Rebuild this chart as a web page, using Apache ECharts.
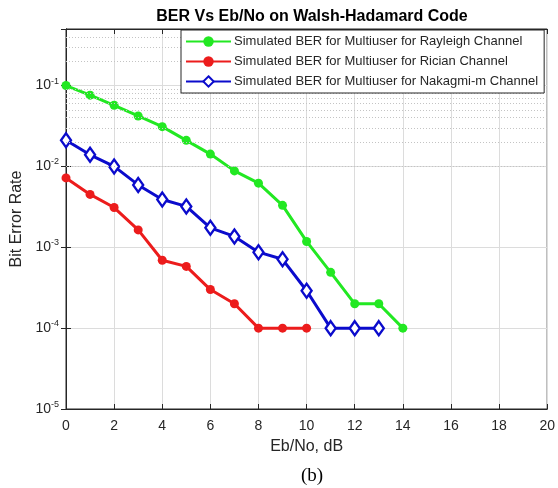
<!DOCTYPE html>
<html>
<head>
<meta charset="utf-8">
<script src="https://cdn.jsdelivr.net/npm/echarts@6/dist/echarts.min.js"></script>
<style>
html,body{margin:0;padding:0;background:#fff;}
#chart{width:558px;height:488px;}
</style>
</head>
<body>
<div id="chart"></div>
<script>
// ---- data ----
const ebno = [0, 1, 2, 3, 4, 5, 6, 7, 8, 9, 10, 11, 12, 13, 14];
const berRayleigh = [0.1, 0.076, 0.057, 0.042, 0.031, 0.021, 0.0142, 0.0088, 0.0062, 0.0033, 0.00118, 0.00049, 0.0002, 0.0002, 0.0001];
const berRician = [0.0072, 0.0045, 0.0031, 0.00164, 0.00069, 0.00058, 0.0003, 0.0002, 0.0001, 0.0001, 0.0001];
const berNakagami = [0.021, 0.0139, 0.01, 0.0059, 0.0039, 0.0032, 0.00174, 0.00136, 0.00087, 0.00071, 0.00029, 0.0001, 0.0001, 0.0001];
const seriesNames = [
  'Simulated BER for Multiuser for Rayleigh Channel',
  'Simulated BER for Multiuser for Rician Channel',
  'Simulated BER for Multiuser for Nakagmi-m Channel'
];
const xTicks = [0, 2, 4, 6, 8, 10, 12, 14, 16, 18, 20];
const yMin = 1e-5, yMax = 0.5;

function pairs(ys) { return ys.map((y, i) => [ebno[i], y]); }

// minor log grid positions (2..9 x each decade)
const minorGrid = [];
for (let d = -5; d <= -1; d++) {
  for (let k = 2; k <= 9; k++) {
    const v = k * Math.pow(10, d);
    if (v < yMax) minorGrid.push({ yAxis: v });
  }
}

const chart = echarts.init(document.getElementById('chart'), null, { renderer: 'canvas' });
const font = 'Liberation Sans, Arial, Helvetica, sans-serif';
const txt = '#262626';

const option = {
  backgroundColor: '#fff',
  animation: false,
  title: [
    {
      text: 'BER Vs Eb/No on Walsh-Hadamard Code',
      left: 307, textAlign: 'center', top: 4,
      textStyle: { fontFamily: font, fontSize: 16, fontWeight: 'bold', color: '#000' }
    },
    {
      text: '(b)',
      left: 307, textAlign: 'center', top: 462,
      textStyle: { fontFamily: 'Liberation Serif, Times New Roman, serif', fontSize: 19, fontWeight: 'normal', color: '#000' }
    }
  ],
  grid: { left: 66, right: 10, top: 29, bottom: 79, show: true, borderColor: '#262626', borderWidth: 1, backgroundColor: '#fff' },
  legend: {
    data: seriesNames,
    orient: 'vertical',
    left: 181, top: 30,
    zlevel: 2, z: 10,
    padding: [5, 6, 5, 4],
    itemWidth: 45, itemHeight: 13, itemGap: 7,
    backgroundColor: '#fff',
    borderColor: '#262626', borderWidth: 1, borderRadius: 0,
    textStyle: { fontFamily: font, fontSize: 13, color: txt, padding: [0, 0, 0, -2] }
  },
  xAxis: [
    {
      type: 'value', min: 0, max: 20, interval: 2,
      name: 'Eb/No, dB', nameLocation: 'middle', nameGap: 30,
      nameTextStyle: { fontFamily: font, fontSize: 16, color: txt },
      axisLine: { show: true, lineStyle: { color: '#262626', width: 1 } },
      axisTick: { show: true, inside: true, length: 5, lineStyle: { color: '#262626' } },
      axisLabel: { fontFamily: font, fontSize: 14, color: txt, margin: 10 },
      splitLine: { show: true, lineStyle: { color: '#dcdcdc', width: 1 } }
    },
    {
      type: 'value', min: 0, max: 20, interval: 2, position: 'top',
      axisLine: { show: true, lineStyle: { color: '#262626', width: 1 } },
      axisTick: { show: true, inside: true, length: 5, lineStyle: { color: '#262626' } },
      axisLabel: { show: false }, splitLine: { show: false }
    }
  ],
  yAxis: [
    {
      type: 'log', min: yMin, max: yMax, logBase: 10,
      name: 'Bit Error Rate', nameLocation: 'middle', nameGap: 40,
      nameTextStyle: { fontFamily: font, fontSize: 16, color: txt },
      axisLine: { show: true, lineStyle: { color: '#262626', width: 1 } },
      axisTick: { show: true, inside: true, length: 5, lineStyle: { color: '#262626' } },
      axisLabel: {
        fontFamily: font, fontSize: 14, color: txt, margin: 7,
        showMaxLabel: false,
        formatter: function (v) {
          const e = Math.round(Math.log10(v));
          if (Math.abs(v - Math.pow(10, e)) / v > 1e-6) return '';
          return '{b|10}{s|' + e + '}';
        },
        rich: {
          b: { fontFamily: font, fontSize: 14, color: txt },
          s: { fontFamily: font, fontSize: 9, color: txt, padding: [0, 0, 9, 0] }
        }
      },
      splitLine: { show: true, lineStyle: { color: '#dcdcdc', width: 1 } }
    },
    {
      type: 'log', min: yMin, max: yMax, logBase: 10, position: 'right',
      axisLine: { show: true, lineStyle: { color: '#262626', width: 1 } },
      axisTick: { show: true, inside: true, length: 5, lineStyle: { color: '#262626' } },
      axisLabel: { show: false }, splitLine: { show: false }
    }
  ],
  series: [
    {
      name: 'minorgrid', type: 'line', data: [], z: 1, silent: true,
      markLine: {
        silent: true, symbol: 'none', animation: false,
        label: { show: false },
        lineStyle: { color: '#c4c4c4', type: [1, 2], width: 1 },
        emphasis: { disabled: true },
        data: minorGrid
      }
    },
    {
      name: seriesNames[0], type: 'line', z: 3,
      data: pairs(berRayleigh),
      symbol: 'circle', symbolSize: 9,
      lineStyle: { color: '#22e822', width: 3 },
      itemStyle: { color: '#22e822' }
    },
    {
      name: seriesNames[1], type: 'line', z: 3,
      data: pairs(berRician),
      symbol: 'circle', symbolSize: 9,
      lineStyle: { color: '#ec1c1c', width: 3 },
      itemStyle: { color: '#ec1c1c' }
    },
    {
      name: seriesNames[2], type: 'line', z: 3,
      data: pairs(berNakagami),
      symbol: 'diamond', symbolSize: [10, 14],
      lineStyle: { color: '#0b0bcc', width: 3 },
      itemStyle: { color: '#ffffff', borderColor: '#0b0bcc', borderWidth: 2.4 }
    }
  ]
};
chart.setOption(option);
</script>
</body>
</html>
